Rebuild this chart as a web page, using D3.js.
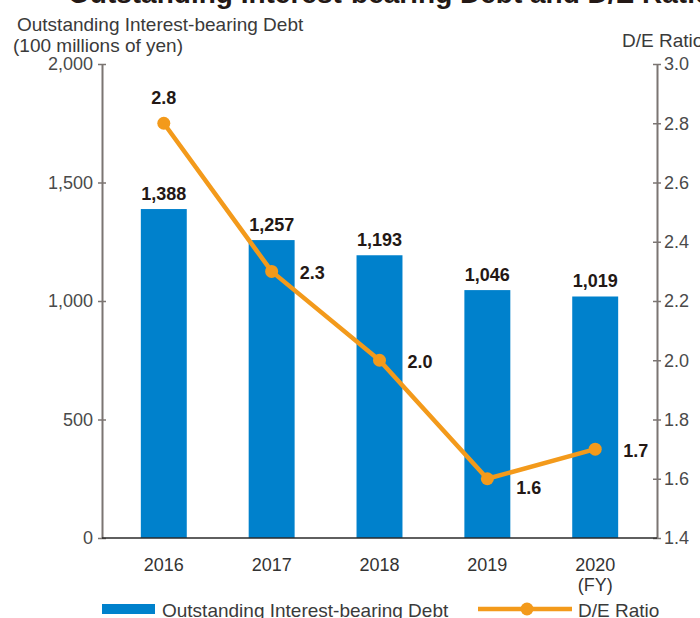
<!DOCTYPE html>
<html>
<head>
<meta charset="utf-8">
<script src="https://cdn.jsdelivr.net/npm/d3@7"></script>
<style>
  html, body { margin: 0; padding: 0; background: #fff; }
  svg { display: block; font-family: "Liberation Sans", Arial, Helvetica, sans-serif; }
</style>
</head>
<body>
<svg id="chart" width="700" height="618"></svg>
<script>
// Fiscal years on the x axis
const years = ["2016", "2017", "2018", "2019", "2020"];
// Outstanding interest-bearing debt (100 millions of yen)
const debt = [1388, 1257, 1193, 1046, 1019];
// Debt/equity ratio (times)
const deRatio = [2.8, 2.3, 2.0, 1.6, 1.7];
// Where each ratio label sits relative to its point
const ratioLabelSide = ["top", "right", "right", "below", "right"];
// Axis ticks
const debtTicks = [0, 500, 1000, 1500, 2000];
const ratioTicks = [1.4, 1.6, 1.8, 2.0, 2.2, 2.4, 2.6, 2.8, 3.0];

const BLUE = "#0081cc";
const ORANGE = "#f39a1b";
const AXIS = "#7b7572";
const TICK_TEXT = "#4a4a4a";
const INK = "#231815";

const svg = d3.select("#chart");

const plotLeft = 102, plotRight = 657, plotTop = 64, plotBottom = 538;

const x = d3.scaleBand().domain(years).range([plotLeft, plotRight])
  .paddingInner(0.574).paddingOuter(0.36);
const yDebt = d3.scaleLinear().domain([0, 2000]).range([plotBottom, plotTop]);
const yRatio = d3.scaleLinear().domain([1.4, 3.0]).range([plotBottom, plotTop]);

// Heading (runs off the top edge)
svg.append("text")
  .attr("x", 68).attr("y", 3)
  .attr("font-size", 28).attr("font-weight", "bold").attr("fill", INK)
  .text("Outstanding Interest-bearing Debt and D/E Ratio");

// Axis titles
svg.append("text").attr("x", 17).attr("y", 31)
  .attr("font-size", 19).attr("fill", "#3a3a3a")
  .text("Outstanding Interest-bearing Debt");
svg.append("text").attr("x", 13).attr("y", 52)
  .attr("font-size", 19).attr("fill", "#3a3a3a")
  .text("(100 millions of yen)");
svg.append("text").attr("x", 622).attr("y", 47)
  .attr("font-size", 19).attr("fill", "#3a3a3a")
  .text("D/E Ratio");

// Bars
const barData = years.map((yr, i) => ({ yr, v: debt[i] }));
svg.append("g").selectAll("rect")
  .data(barData)
  .join("rect")
  .attr("x", d => x(d.yr))
  .attr("width", x.bandwidth())
  .attr("y", d => yDebt(d.v))
  .attr("height", d => yDebt(0) - yDebt(d.v))
  .attr("fill", BLUE);

// Bar value labels
const fmt = d3.format(",");
svg.append("g").selectAll("text")
  .data(barData)
  .join("text")
  .attr("x", d => x(d.yr) + x.bandwidth() / 2)
  .attr("y", d => yDebt(d.v) - 9)
  .attr("text-anchor", "middle")
  .attr("font-size", 18).attr("font-weight", "bold").attr("fill", INK)
  .text(d => fmt(d.v));

// Left axis
const leftAxis = d3.axisLeft(yDebt).tickValues(debtTicks)
  .tickFormat(d3.format(",")).tickSize(0).tickPadding(9);
const gL = svg.append("g").attr("transform", `translate(${plotLeft},0)`).call(leftAxis);
gL.attr("font-family", null).attr("font-size", null);
gL.select(".domain").attr("stroke", AXIS).attr("stroke-width", 2);
gL.selectAll(".tick text").attr("font-size", 18).attr("fill", TICK_TEXT);
gL.selectAll(".tick").append("line")
  .attr("x1", -4).attr("x2", 4).attr("stroke", AXIS).attr("stroke-width", 1.5);

// Right axis
const rightAxis = d3.axisRight(yRatio).tickValues(ratioTicks)
  .tickFormat(d3.format(".1f")).tickSize(0).tickPadding(7);
const gR = svg.append("g").attr("transform", `translate(${plotRight},0)`).call(rightAxis);
gR.attr("font-family", null).attr("font-size", null);
gR.select(".domain").attr("stroke", AXIS).attr("stroke-width", 2);
gR.selectAll(".tick text").attr("font-size", 18).attr("fill", TICK_TEXT);
gR.selectAll(".tick").append("line")
  .attr("x1", -4).attr("x2", 4).attr("stroke", AXIS).attr("stroke-width", 1.5);

// Baseline
svg.append("line")
  .attr("x1", plotLeft).attr("x2", plotRight)
  .attr("y1", yDebt(0)).attr("y2", yDebt(0))
  .attr("stroke", "#2a2a2a").attr("stroke-width", 1.5);

// Year labels
const xAxis = d3.axisBottom(x).tickSize(0).tickPadding(0);
const gX = svg.append("g").attr("transform", `translate(0,${plotBottom})`).call(xAxis);
gX.attr("font-family", null).attr("font-size", null);
gX.select(".domain").remove();
gX.selectAll(".tick text").attr("font-size", 18).attr("fill", "#333")
  .attr("dy", null).attr("y", 33);
svg.append("text")
  .attr("x", x("2020") + x.bandwidth() / 2).attr("y", 591)
  .attr("text-anchor", "middle").attr("font-size", 18).attr("fill", "#333")
  .text("(FY)");

// D/E ratio line
const pts = years.map((yr, i) => ({
  yr, v: deRatio[i], side: ratioLabelSide[i],
  cx: x(yr) + x.bandwidth() / 2, cy: yRatio(deRatio[i])
}));
svg.append("path")
  .datum(pts)
  .attr("fill", "none").attr("stroke", ORANGE).attr("stroke-width", 4.5)
  .attr("stroke-linejoin", "round")
  .attr("d", d3.line().x(d => d.cx).y(d => d.cy));
svg.append("g").selectAll("circle").data(pts).join("circle")
  .attr("cx", d => d.cx).attr("cy", d => d.cy).attr("r", 6.5)
  .attr("fill", ORANGE);

// Ratio value labels
const labelOffset = {
  top: { dx: 0, dy: -19, anchor: "middle" },
  right: { dx: 28, dy: 8, anchor: "start" },
  below: { dx: 29, dy: 15, anchor: "start" }
};
svg.append("g").selectAll("text").data(pts).join("text")
  .attr("x", d => d.cx + labelOffset[d.side].dx)
  .attr("y", d => d.cy + labelOffset[d.side].dy)
  .attr("text-anchor", d => labelOffset[d.side].anchor)
  .attr("font-size", 18).attr("font-weight", "bold").attr("fill", INK)
  .text(d => d.v.toFixed(1));

// Legend
const legend = svg.append("g");
legend.append("rect").attr("x", 102).attr("y", 604).attr("width", 53).attr("height", 10)
  .attr("fill", BLUE);
legend.append("text").attr("x", 162).attr("y", 617)
  .attr("font-size", 19).attr("fill", "#3a3a3a")
  .text("Outstanding Interest-bearing Debt");
legend.append("line").attr("x1", 478).attr("x2", 572).attr("y1", 609).attr("y2", 609)
  .attr("stroke", ORANGE).attr("stroke-width", 4.5);
legend.append("circle").attr("cx", 527).attr("cy", 609).attr("r", 6.5).attr("fill", ORANGE);
legend.append("text").attr("x", 578).attr("y", 617)
  .attr("font-size", 19).attr("fill", "#3a3a3a")
  .text("D/E Ratio");
</script>
</body>
</html>
